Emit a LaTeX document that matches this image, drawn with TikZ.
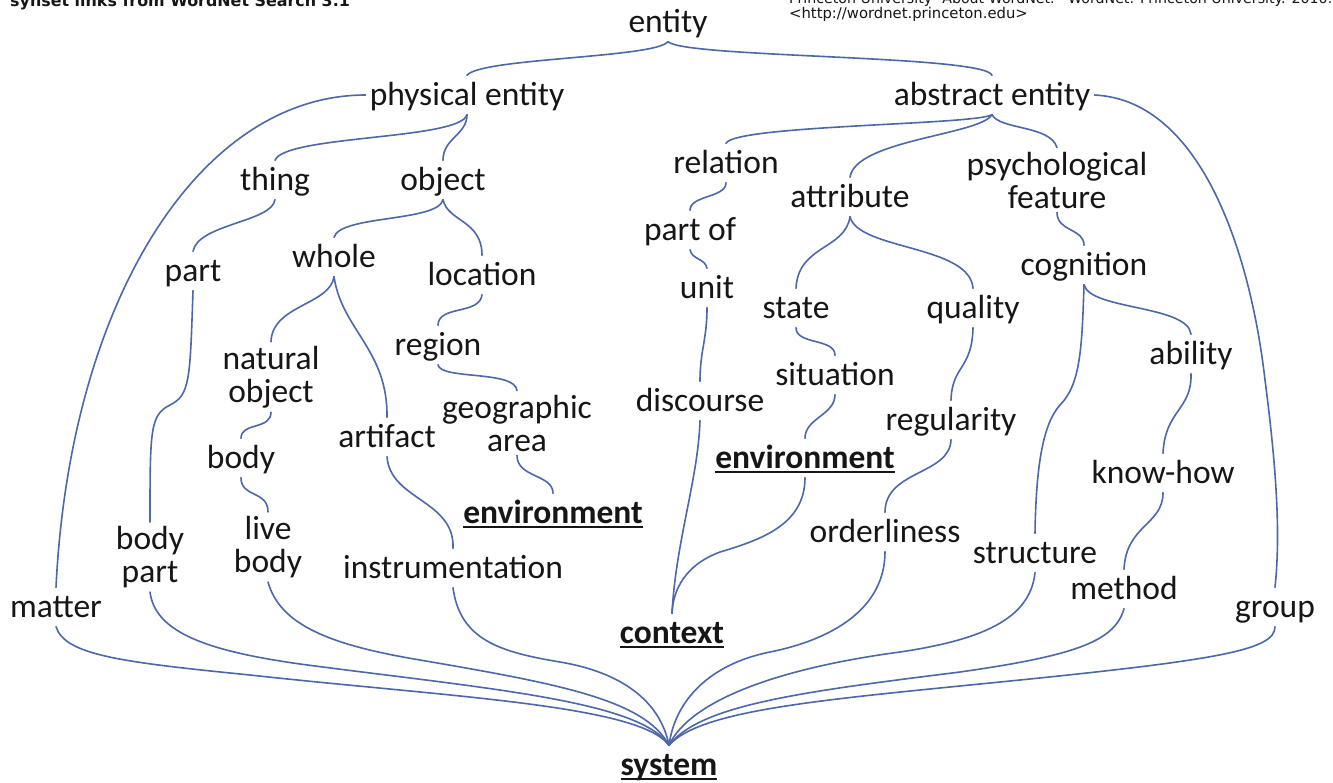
\documentclass[tikz,border=0pt]{standalone}
\usepackage{fontspec}
\setmainfont{Carlito}
\newfontfamily\hdrfont{DejaVu Sans}
\definecolor{lc}{RGB}{76,104,168}
\definecolor{tc}{RGB}{22,22,22}
\newcommand\ulbold[1]{\setbox0\hbox{\bfseries #1}\rlap{\rule[-4.5pt]{\wd0}{2.4pt}}\box0}
\begin{document}
\begin{tikzpicture}[x=1pt,y=-1pt,
  lbl/.style={font=\fontsize{33.5}{33}\selectfont, text=tc, inner sep=4pt, text height=26pt, text depth=5pt},
  lbl2/.style={font=\fontsize{33.5}{33}\selectfont, text=tc, inner sep=4pt, align=center},
  conn/.style={draw=lc, line width=1.6pt, line cap=round}]
\useasboundingbox (0,0) rectangle (1333,782);
\clip (0,0) rectangle (1333,782);
\fill[white] (0,0) rectangle (1333,782);
% headers
\node[anchor=base west, font=\hdrfont\bfseries\fontsize{15.9}{16}\selectfont, text=tc, inner sep=0] (hdrL) at (10,6) {synset links from WordNet Search 3.1};
\node[anchor=base west, font=\hdrfont\fontsize{14.2}{15}\selectfont, text=tc, inner sep=0] (hdrR1) at (789,3) {Princeton University “About WordNet.” WordNet. Princeton University. 2010.};
\node[anchor=base west, font=\hdrfont\fontsize{14.8}{15}\selectfont, text=tc, inner sep=0] (hdrR2) at (789,18) {<http://wordnet.princeton.edu>};
% nodes
\node[lbl] (entity) at (668,22) {entity};
\node[lbl] (pe) at (467,95) {physical entity};
\node[lbl] (ae) at (992,95) {abstract entity};
\node[lbl] (thing) at (275,180) {thing};
\node[lbl] (object) at (443,180) {object};
\node[lbl] (relation) at (726,163) {relation};
\node[lbl] (attribute) at (850,197) {attribute};
\node[lbl2] (psych) at (1057,180) {psychological\\feature};
\node[lbl] (partof) at (690,230) {part of};
\node[lbl] (part) at (193,271) {part};
\node[lbl] (whole) at (334,257) {whole};
\node[lbl] (location) at (482,275) {location};
\node[lbl] (unit) at (707,288) {unit};
\node[lbl] (state) at (796,308) {state};
\node[lbl] (quality) at (973,308) {quality};
\node[lbl] (cognition) at (1084,265) {cognition};
\node[lbl] (region) at (438,345) {region};
\node[lbl2] (natobj) at (271,377) {natural\\object};
\node[lbl] (ability) at (1191,354) {ability};
\node[lbl] (situation) at (835,375) {situation};
\node[lbl] (discourse) at (700,401) {discourse};
\node[lbl2] (geo) at (517,423) {geographic\\area};
\node[lbl] (artifact) at (387,437) {artifact};
\node[lbl] (regularity) at (951,420) {regularity};
\node[lbl] (body) at (241,458) {body};
\node[lbl] (envR) at (805,458) {\ulbold{environment}};
\node[lbl] (knowhow) at (1163,473) {know-how};
\node[lbl] (envL) at (553,513) {\ulbold{environment}};
\node[lbl2] (livebody) at (268,547) {live\\body};
\node[lbl2] (bodypart) at (150,557) {body\\part};
\node[lbl] (ord) at (885,532) {orderliness};
\node[lbl] (struct) at (1035,553) {structure};
\node[lbl] (instr) at (453,568) {instrumentation};
\node[lbl] (method) at (1124,589) {method};
\node[lbl] (matter) at (56,607) {matter};
\node[lbl] (group) at (1275,607) {group};
\node[lbl] (context) at (672,633) {\ulbold{context}};
\node[lbl] (system) at (669,765) {\ulbold{system}};
% top brace
\draw[conn] (entity.south) .. controls (655,58) and (480,58) .. (pe.north);
\draw[conn] (entity.south) .. controls (685,58) and (985,55) .. (ae.north);
% outer arcs
\draw[conn] (pe.west) .. controls (200,95) and (70,300) .. (matter.north);
\draw[conn] (ae.east) .. controls (1200,100) and (1250,250) .. (1265,380) .. controls (1278,480) and (1280,540) .. (group.north);
% physical side
\draw[conn] (pe.south) .. controls (460,140) and (285,135) .. (thing.north);
\draw[conn] (pe.south) .. controls (467,135) and (443,138) .. (object.north);
\draw[conn] (thing.south) .. controls (272,222) and (198,224) .. (part.north);
\draw[conn] (object.south) .. controls (438,222) and (340,215) .. (whole.north);
\draw[conn] (object.south) .. controls (448,222) and (482,220) .. (location.north);
\draw[conn] (whole.south) .. controls (330,305) and (272,305) .. (natobj.north);
\draw[conn] (whole.south) .. controls (342,330) and (388,350) .. (artifact.north);
\draw[conn] (location.south) .. controls (480,315) and (438,305) .. (region.north);
\draw[conn] (region.south) .. controls (440,380) and (515,370) .. (geo.north);
\draw[conn] (natobj.south) .. controls (271,430) and (241,422) .. (body.north);
\draw[conn] (body.south) .. controls (241,498) and (268,490) .. (livebody.north);
\draw[conn] (geo.south) .. controls (517,478) and (553,474) .. (envL.north);
\draw[conn] (artifact.south) .. controls (390,500) and (455,500) .. (instr.north);
\draw[conn] (part.south) .. controls (190,380) and (190,395) .. (170,405) .. controls (150,415) and (150,430) .. (bodypart.north);
% abstract side
\draw[conn] (ae.south) .. controls (975,125) and (735,125) .. (relation.north);
\draw[conn] (ae.south) .. controls (980,135) and (855,140) .. (attribute.north);
\draw[conn] (ae.south) .. controls (1000,130) and (1050,125) .. (psych.north);
\draw[conn] (relation.south) .. controls (726,198) and (690,195) .. (partof.north);
\draw[conn] (partof.south) .. controls (692,260) and (705,258) .. (unit.north);
\draw[conn] (unit.south) .. controls (707,340) and (700,350) .. (discourse.north);
\draw[conn] (discourse.south) .. controls (698,480) and (676,540) .. (context.north);
\draw[conn] (envR.south) .. controls (805,525) and (760,540) .. (720,552) .. controls (685,565) and (673,590) .. (context.north);
\draw[conn] (attribute.south) .. controls (845,250) and (798,245) .. (state.north);
\draw[conn] (attribute.south) .. controls (858,250) and (970,245) .. (quality.north);
\draw[conn] (state.south) .. controls (796,345) and (835,338) .. (situation.north);
\draw[conn] (situation.south) .. controls (835,415) and (805,418) .. (envR.north);
\draw[conn] (quality.south) .. controls (972,370) and (952,365) .. (regularity.north);
\draw[conn] (regularity.south) .. controls (950,475) and (885,470) .. (ord.north);
\draw[conn] (psych.south) .. controls (1057,232) and (1084,228) .. (cognition.north);
\draw[conn] (cognition.south) .. controls (1090,310) and (1188,305) .. (ability.north);
\draw[conn] (cognition.south) .. controls (1082,350) and (1080,385) .. (1060,405) .. controls (1042,425) and (1036,470) .. (struct.north);
\draw[conn] (ability.south) .. controls (1192,410) and (1165,410) .. (knowhow.north);
\draw[conn] (knowhow.south) .. controls (1163,525) and (1126,525) .. (method.north);
% fan into system
\draw[conn] (matter.south) .. controls (65,655) and (120,662) .. (250,675) .. controls (450,697) and (640,705) .. (system.north);
\draw[conn] (bodypart.south) .. controls (155,630) and (200,650) .. (300,664) .. controls (480,688) and (640,700) .. (system.north);
\draw[conn] (livebody.south) .. controls (280,625) and (330,645) .. (420,660) .. controls (560,684) and (645,700) .. (system.north);
\draw[conn] (instr.south) .. controls (460,640) and (500,652) .. (560,662) .. controls (620,672) and (660,700) .. (system.north);
\draw[conn] (ord.south) .. controls (885,610) and (830,640) .. (770,652) .. controls (710,664) and (675,700) .. (system.north);
\draw[conn] (struct.south) .. controls (1030,620) and (980,640) .. (900,652) .. controls (780,668) and (690,700) .. (system.north);
\draw[conn] (method.south) .. controls (1115,640) and (1080,655) .. (960,672) .. controls (800,692) and (700,705) .. (system.north);
\draw[conn] (group.south) .. controls (1275,650) and (1220,660) .. (1000,682) .. controls (820,700) and (700,710) .. (system.north);
\end{tikzpicture}
\end{document}
